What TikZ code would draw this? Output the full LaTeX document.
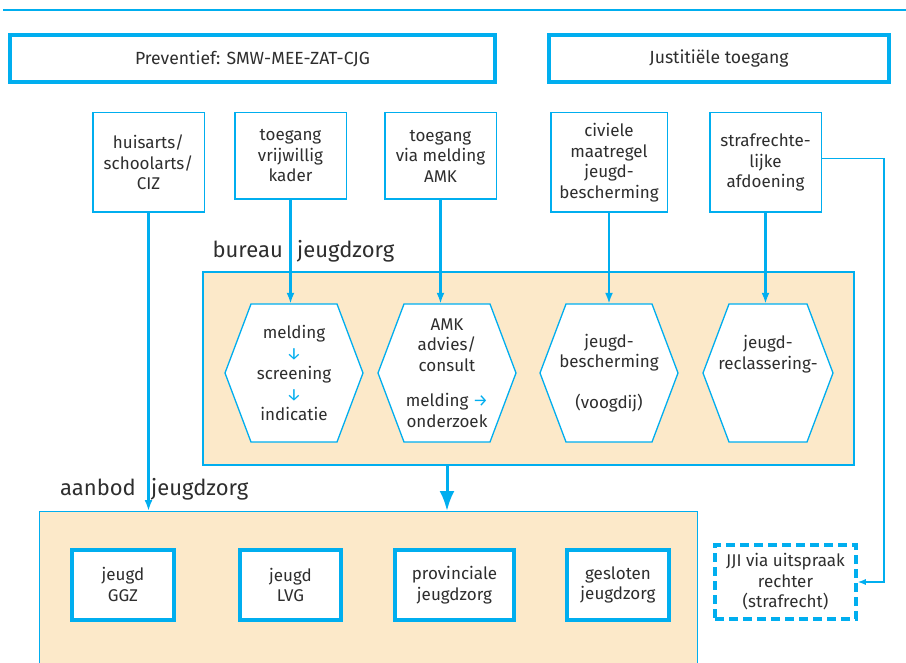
\documentclass[tikz,border=0pt]{standalone}
\usepackage{fontspec}
\setmainfont{Fira Sans}
\usetikzlibrary{arrows.meta}
\definecolor{jzblue}{HTML}{00AEEF}
\definecolor{jzbeige}{HTML}{FCE9C9}
\definecolor{jztext}{HTML}{2E2E2E}
\newcommand\hexagonat[3]{%
  \filldraw[fill=white,draw=jzblue,line width=1.3pt] (#1-#3,#2) -- (#1-#3+26,#2-69) -- (#1+#3-26,#2-69) -- (#1+#3,#2) -- (#1+#3-26,#2+69) -- (#1-#3+26,#2+69) -- cycle;}

\begin{document}
\begin{tikzpicture}[x=1pt,y=-1pt,>={Latex[length=11pt,width=8pt]},
    every node/.style={text=jztext,font=\fontsize{17}{20.5}\selectfont,align=center,inner sep=0pt},
    topbox/.style={draw=jzblue,line width=4pt,fill=white,minimum height=47pt,font=\fontsize{17.6}{21}\selectfont},
    askbox/.style={draw=jzblue,line width=1.5pt,fill=white,minimum width=111.5pt},
    offer/.style={draw=jzblue,line width=4pt,fill=white,minimum height=70pt},
    hexcell/.style={minimum height=138pt},
    group/.style={draw=jzblue,line width=1.3pt,fill=jzbeige},
    grouplbl/.style={font=\fontsize{22}{25}\selectfont},
    flow/.style={->,draw=jzblue,line width=2.2pt}]
		\useasboundingbox (0,0) rectangle (906,663);
		\clip (0,0) rectangle (906,663);
		\draw [jzblue,line width=1.3pt] (3,10) -- (906,10);
		\node[topbox,minimum width=485pt] (prev) at (252.5,58.5) {Preventief: SMW-MEE-ZAT-CJG};
		\node[topbox,minimum width=340pt] (just) at (719,58.5) {Justitiële toegang};
		\node[askbox,minimum height=99.5pt] (huis) at (148.5,162.5) {huisarts/\\schoolarts/\\CIZ};
		\node[askbox,minimum height=86.5pt] (vrijw) at (290.5,156) {toegang\\vrijwillig\\kader};
		\node[askbox,minimum height=86.5pt] (amk) at (440.5,156) {toegang\\via melding\\AMK};
		\node[askbox,minimum width=116.5pt,minimum height=99.5pt] (civiel) at (609,162.5) {civiele\\maatregel\\jeugd-\\bescherming};
		\node[askbox,minimum height=99.5pt] (strafr) at (765.5,162.5) {strafrechte-\\lijke\\afdoening};
		\node[grouplbl,anchor=base east] (bureaulbl) at (283,258) {bureau};
		\node[grouplbl,anchor=base west] (bureaulbl2) at (297,258) {jeugdzorg};
		\node[group,minimum width=651pt,minimum height=193pt] (bureau) at (528.5,368.5) {};
		\hexagonat{294}{373}{69}
		\hexagonat{447}{373}{69}
		\hexagonat{609}{373}{69}
		\hexagonat{768}{373}{65}
		\node[hexcell] (hexA) at (294,373) {melding\\\textcolor{jzblue}{↓}\\screening\\\textcolor{jzblue}{↓}\\indicatie};
		\node[hexcell] (hexB) at (447,373) {AMK\\advies/\\consult\\[15pt]melding \textcolor{jzblue}{→}\\onderzoek};
		\node[hexcell] (hexC) at (609,373) {jeugd-\\bescherming\\ \\(voogdij)};
		\node[hexcell] (hexD) at (768,373) {jeugd-\\reclassering-\\ \\ };
		\node[grouplbl,anchor=base east] (aanbodlbl) at (136,495) {aanbod};
		\node[grouplbl,anchor=base west] (aanbodlbl2) at (151,495) {jeugdzorg};
		\node[group,anchor=north west,minimum width=658pt,minimum height=200pt] (aanbod) at (39,511) {};
		\node[offer,minimum width=102pt] (ggz) at (123,584.5) {jeugd\\GGZ};
		\node[offer,minimum width=101pt] (lvg) at (290.5,585) {jeugd\\LVG};
		\node[offer,minimum width=119pt] (prov) at (454.5,585) {provinciale\\jeugdzorg};
		\node[offer,minimum width=102pt] (gesl) at (618,585) {gesloten\\jeugdzorg};
		\node[draw=jzblue,line width=3.5pt,dash pattern=on 9pt off 5pt,minimum width=141pt,minimum height=74pt] (jji) at (785.5,582) {JJI via uitspraak\\rechter\\(strafrecht)};
		\draw [flow] (huis.south) -- (huis.south |- aanbod.north);
		\draw [flow] (vrijw.south) -- (vrijw.south |- hexA.north);
		\draw [flow] (amk.south) -- (amk.south |- hexB.north);
		\draw [flow] (civiel.south) -- (civiel.south |- hexC.north);
		\draw [flow] (strafr.south) -- (strafr.south |- hexD.north);
		\draw [flow,line width=3pt,-{Latex[length=20pt,width=15pt]}] (hexB |- bureau.south) -- (hexB |- aanbod.north);
		\draw [->,jzblue,line width=1.3pt,>={Latex[length=8pt,width=6pt]}] ([yshift=4pt]strafr.east) -- ++(62,0) |- (jji.east);
\end{tikzpicture}
\end{document}
